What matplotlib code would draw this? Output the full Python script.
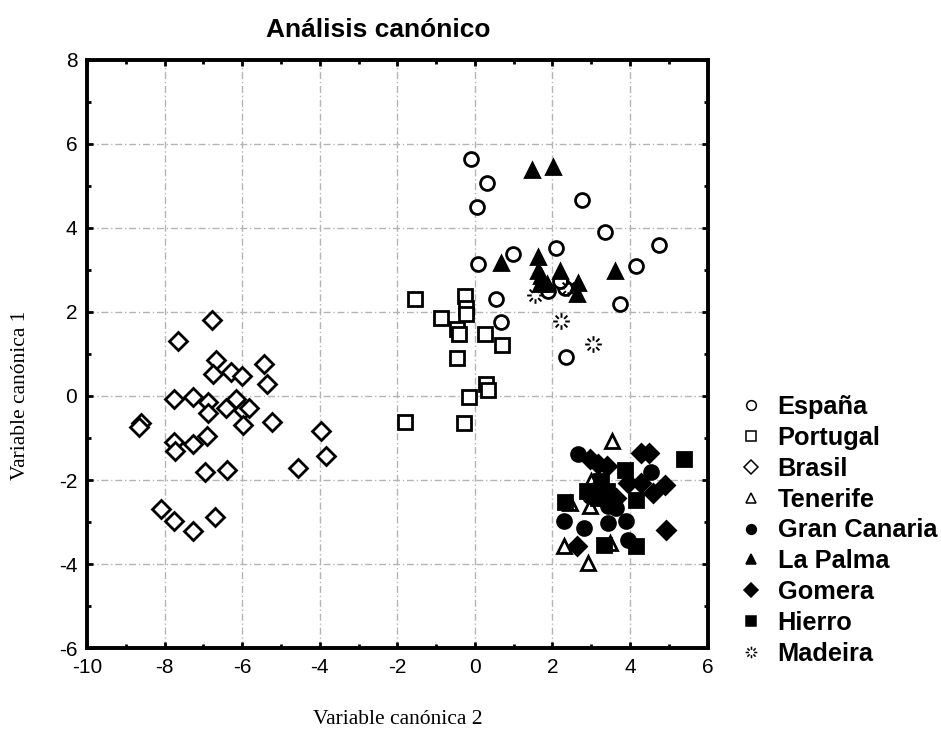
import numpy as np
import matplotlib
matplotlib.use("Agg")
import matplotlib.pyplot as plt
from matplotlib.path import Path

plt.rcParams['axes.unicode_minus'] = False

# ---- data (Variable canónica 2 -> x, Variable canónica 1 -> y) ----
espana_x = [-0.11, 0.30, 0.06, 2.77, 3.35, 4.75, 2.10, 0.97, 0.09, 4.16, 0.55, 3.73, 0.66, 2.34, 1.89, 2.32, 2.19]
espana_y = [5.63, 5.08, 4.51, 4.67, 3.91, 3.59, 3.52, 3.38, 3.14, 3.10, 2.32, 2.19, 1.75, 0.94, 2.51, 2.58, 2.74]

portugal_x = [-1.54, -0.25, -0.24, -0.22, -0.88, -0.47, -0.42, 0.26, 0.71, -0.47, 0.29, 0.35, -0.15, -1.81, -0.27]
portugal_y = [2.32, 2.39, 2.10, 1.95, 1.85, 1.59, 1.47, 1.47, 1.21, 0.90, 0.28, 0.14, -0.02, -0.61, -0.64]

brasil_x = [-6.79, -7.65, -6.68, -6.75, -6.29, -6.00, -7.77, -7.28, -6.88, -6.88, -6.42, -6.16, -5.97, -5.82,
            -5.97, -8.62, -8.67, -7.75, -7.73, -7.28, -6.91, -6.95, -6.38, -8.09, -7.77, -7.26, -6.70,
            -5.44, -5.35, -5.24, -3.98, -3.83, -4.56]
brasil_y = [1.81, 1.31, 0.85, 0.52, 0.57, 0.48, -0.06, -0.02, -0.14, -0.40, -0.29, -0.06, -0.33, -0.28,
            -0.68, -0.65, -0.74, -1.10, -1.31, -1.15, -0.95, -1.81, -1.75, -2.69, -2.98, -3.21, -2.88,
            0.76, 0.28, -0.61, -0.84, -1.43, -1.71]

tenerife_x = [3.54, 3.00, 2.45, 2.96, 2.29, 2.92, 3.48]
tenerife_y = [-1.06, -2.03, -2.55, -2.63, -3.56, -3.98, -3.50]

grancanaria_x = [2.66, 4.55, 2.96, 3.43, 3.65, 2.30, 2.81, 3.43, 3.90, 3.95, 3.09, 3.26]
grancanaria_y = [-1.39, -1.81, -2.39, -2.63, -2.67, -2.98, -3.14, -3.02, -2.97, -3.42, -2.23, -2.43]

lapalma_x = [1.48, 2.02, 0.67, 1.63, 1.63, 1.68, 1.85, 2.19, 2.66, 2.64, 3.60, 1.70]
lapalma_y = [5.39, 5.45, 3.16, 3.32, 2.98, 2.67, 2.67, 2.97, 2.68, 2.43, 2.97, 2.85]

gomera_x = [4.29, 4.50, 2.96, 3.17, 3.41, 3.95, 4.27, 4.89, 4.59, 4.93, 2.64, 3.65]
gomera_y = [-1.35, -1.35, -1.51, -1.63, -1.67, -2.07, -2.07, -2.11, -2.31, -3.18, -3.56, -2.43]

hierro_x = [5.40, 3.86, 3.26, 2.90, 3.41, 4.16, 2.33, 3.33, 4.16, 3.17]
hierro_y = [-1.51, -1.77, -2.03, -2.27, -2.27, -2.48, -2.53, -3.54, -3.58, -2.43]

madeira_x = [1.56, 2.23, 3.05, 2.40]
madeira_y = [2.41, 1.79, 1.23, 2.58]

# Madeira marker: radiating short dashes
verts, codes = [], []
for a in np.deg2rad([0, 45, 90, 135, 180, 225, 270, 315]):
    verts += [(0.45 * np.cos(a), 0.45 * np.sin(a)), (np.cos(a), np.sin(a))]
    codes += [Path.MOVETO, Path.LINETO]
madeira_marker = Path(verts, codes)

fig = plt.figure(figsize=(9.41, 7.31), dpi=100)
ax = fig.add_axes([0.0925, 0.1135, 0.6595, 0.8045])

ms = 10
ew = 2.0
series = [
    ("España", espana_x, espana_y, dict(marker='o', mfc='white', mec='black')),
    ("Portugal", portugal_x, portugal_y, dict(marker='s', mfc='white', mec='black')),
    ("Brasil", brasil_x, brasil_y, dict(marker='D', mfc='white', mec='black', ms_scale=0.95)),
    ("Tenerife", tenerife_x, tenerife_y, dict(marker='^', mfc='white', mec='black')),
    ("Gran Canaria", grancanaria_x, grancanaria_y, dict(marker='o', mfc='black', mec='black')),
    ("La Palma", lapalma_x, lapalma_y, dict(marker='^', mfc='black', mec='black')),
    ("Gomera", gomera_x, gomera_y, dict(marker='D', mfc='black', mec='black', ms_scale=0.95)),
    ("Hierro", hierro_x, hierro_y, dict(marker='s', mfc='black', mec='black')),
    ("Madeira", madeira_x, madeira_y, dict(marker=madeira_marker, mfc='none', mec='black', ms_scale=1.2, ew=1.4)),
]

handles = []
for name, xs, ys, st in series:
    st = dict(st)
    sc = st.pop('ms_scale', 1.0)
    e = st.pop('ew', ew)
    ax.plot(xs, ys, linestyle='none', markersize=ms * sc, markeredgewidth=e, zorder=3, **st)
    h, = ax.plot([], [], linestyle='none', markersize=7 * sc, markeredgewidth=1.1, label=name, **st)
    handles.append(h)

ax.set_xlim(-10, 6)
ax.set_ylim(-6, 8)
ax.set_xticks(np.arange(-10, 7, 2))
ax.set_yticks(np.arange(-6, 9, 2))
ax.set_xticks(np.arange(-10, 7, 1), minor=True)
ax.set_yticks(np.arange(-6, 9, 1), minor=True)
ax.grid(True, which='major', color='#b4b4b4', linestyle=(0, (5, 2, 1, 2)), linewidth=1.0, zorder=0)
ax.set_axisbelow(True)
ax.tick_params(which='both', direction='in', top=True, right=True, width=2, colors='black')
ax.tick_params(which='major', length=4, labelsize=15, pad=7)
ax.tick_params(which='minor', length=3)
for lab in ax.get_xticklabels() + ax.get_yticklabels():
    lab.set_fontfamily('Liberation Sans')
for s in ax.spines.values():
    s.set_linewidth(2.8)

fig.text(378 / 941, 1 - 30 / 731, "Análisis canónico", fontsize=19, fontweight='bold',
         family='Liberation Sans', ha='center', va='center')
fig.text(398 / 941, 1 - 719 / 731, "Variable canónica 2", fontsize=15.5,
         family='Liberation Serif', ha='center', va='center')
fig.text(21 / 941, 1 - 395 / 731, "Variable canónica 1", fontsize=15.5,
         family='Liberation Serif', ha='center', va='center', rotation=90)

leg = fig.legend(handles=handles, loc='upper left', bbox_to_anchor=(0.771, 0.477),
                 frameon=False, prop=dict(family='Liberation Sans', weight='bold', size=18.3),
                 labelspacing=0.27, handletextpad=0.55, handlelength=1.0, borderpad=0)

fig.savefig("out.png", dpi=100)
